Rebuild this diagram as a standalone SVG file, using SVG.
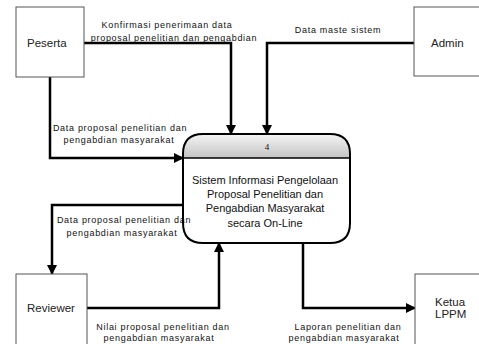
<svg xmlns="http://www.w3.org/2000/svg" width="479" height="344" viewBox="0 0 479 344">
<style>
.ent{fill:#fff;stroke:#555;stroke-width:1}
.et{font-family:"Liberation Sans",Arial,sans-serif;font-size:11.5px;fill:#222}
.pt{font-family:"Liberation Sans",Arial,sans-serif;font-size:11px;fill:#111;text-anchor:middle}
.lb{font-family:"Liberation Sans",Arial,sans-serif;font-size:9px;letter-spacing:0.7px;fill:#111;text-anchor:middle}
.cn{fill:none;stroke:#000;stroke-width:2.5}
</style>
<defs>
<marker id="ah" viewBox="0 0 10 10" refX="9" refY="5" markerWidth="4" markerHeight="4" orient="auto" markerUnits="strokeWidth">
<path d="M0,0 L10,5 L0,10 z" fill="#000"/>
</marker>
<linearGradient id="hg" x1="0" y1="0" x2="0" y2="1">
<stop offset="0" stop-color="#f4f4f4"/>
<stop offset="1" stop-color="#c4c4c4"/>
</linearGradient>
</defs>
<rect width="479" height="344" fill="#fff"/>
<g id="connectors">
<path class="cn" d="M84,43 H231 V134" marker-end="url(#ah)"/>
<path class="cn" d="M414,43 H267 V134" marker-end="url(#ah)"/>
<path class="cn" d="M50,77 V158 H183" marker-end="url(#ah)"/>
<path class="cn" d="M183,205 H52 V274" marker-end="url(#ah)"/>
<path class="cn" d="M87,308 H219 V243" marker-end="url(#ah)"/>
<path class="cn" d="M303,243 V308 H415" marker-end="url(#ah)"/>
<text class="lb" x="167" y="28">Konfirmasi penerimaan data</text>
<text class="lb" x="174" y="41">proposal penelitian dan pengabdian</text>
<text class="lb" x="338" y="33">Data maste sistem</text>
<text class="lb" x="120" y="131">Data proposal penelitian dan</text>
<text class="lb" x="119" y="143">pengabdian masyarakat</text>
<text class="lb" x="124" y="223">Data proposal penelitian dan</text>
<text class="lb" x="122" y="236">pengabdian masyarakat</text>
<text class="lb" x="163" y="330">Nilai proposal penelitian dan</text>
<text class="lb" x="159" y="341">pengabdian masyarakat</text>
<text class="lb" x="348" y="330">Laporan penelitian dan</text>
<text class="lb" x="344" y="341">pengabdian masyarakat</text>
</g>
<g id="peserta">
<rect class="ent" x="16" y="7" width="68" height="70"/>
<text class="et" x="27" y="47">Peserta</text>
</g>
<g id="admin">
<rect class="ent" x="414" y="7" width="70" height="69"/>
<text class="et" x="431" y="47">Admin</text>
</g>
<g id="reviewer">
<rect class="ent" x="16" y="274" width="71" height="76"/>
<text class="et" x="27" y="312">Reviewer</text>
</g>
<g id="ketua">
<rect class="ent" x="415" y="274" width="70" height="76"/>
<text class="et" x="435" y="306">Ketua</text>
<text class="et" x="435" y="318">LPPM</text>
</g>
<g id="process">
<path d="M183,158 V154 Q183,134 205,134 H330 Q350,134 350,154 V158 Z" fill="url(#hg)"/>
<path d="M203,134 H330 Q350,134 350,154 V223 Q350,243 330,243 H203 Q183,243 183,223 V154 Q183,134 203,134 Z" fill="none" stroke="#000" stroke-width="2"/>
<line x1="183" y1="158" x2="350" y2="158" stroke="#000" stroke-width="1.5"/>
<text x="267" y="150" font-family="Liberation Serif,serif" font-size="9" text-anchor="middle" fill="#111">4</text>
<text class="pt" x="265" y="184">Sistem Informasi Pengelolaan</text>
<text class="pt" x="265" y="198">Proposal Penelitian dan</text>
<text class="pt" x="265" y="212">Pengabdian Masyarakat</text>
<text class="pt" x="265" y="227">secara On-Line</text>
</g>
</svg>
